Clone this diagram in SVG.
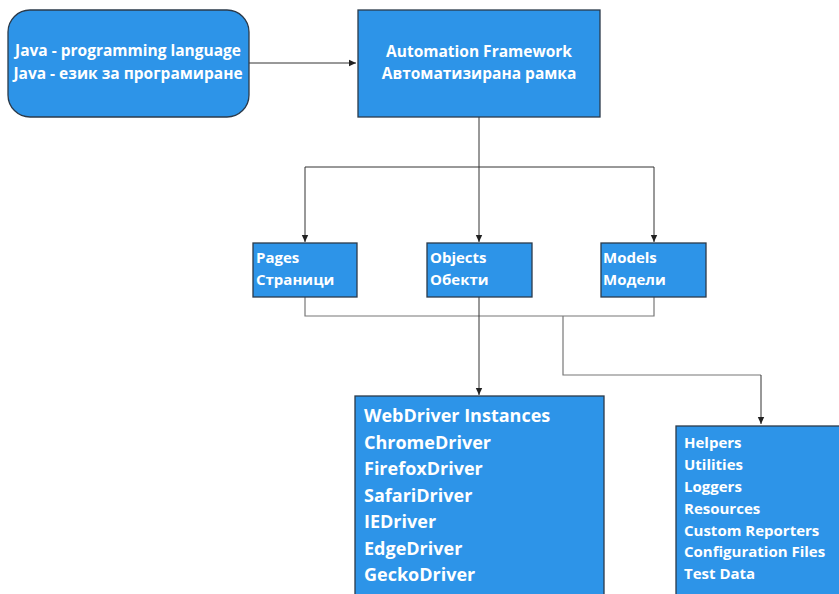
<svg xmlns="http://www.w3.org/2000/svg" width="839" height="594" viewBox="0 0 839 594">
<defs>
<marker id="ah" markerWidth="8" markerHeight="8" refX="7" refY="4" orient="auto" markerUnits="userSpaceOnUse">
<path d="M0,0.8 L7,4 L0,7.2 Z" fill="#222"/>
</marker>
<style>
.box{fill:#2d94e8;stroke:#2b3a4a;stroke-width:1.3}
.t{font-family:"Open Sans","Liberation Sans",sans-serif;font-weight:bold;fill:#fff}
.c{fill:none;stroke:#333;stroke-width:1}
.g{fill:none;stroke:#777;stroke-width:1.2}
</style>
</defs>
<rect width="839" height="594" fill="#fff"/>
<g id="connectors">
<path class="c" d="M248,63 H356" marker-end="url(#ah)"/>
<path class="c" d="M479,117 V242" marker-end="url(#ah)"/>
<path class="c" d="M305,167 H654"/>
<path class="c" d="M305,167 V242" marker-end="url(#ah)"/>
<path class="c" d="M654,167 V242" marker-end="url(#ah)"/>
<path class="g" d="M305,297 V316 H654 V297"/>
<path class="c" d="M479,297 V395" marker-end="url(#ah)"/>
<path class="g" d="M563,316 V375 H761"/>
<path class="c" d="M761,375 V424" marker-end="url(#ah)"/>
</g>
<g id="java">
<rect class="box" x="8" y="10" width="241" height="107" rx="22"/>
<text class="t" font-size="15.5" text-anchor="middle" x="128" y="56">Java - programming language</text>
<text class="t" font-size="15.5" text-anchor="middle" x="128" y="79">Java - език за програмиране</text>
</g>
<g id="framework">
<rect class="box" x="358" y="10" width="242" height="107"/>
<text class="t" font-size="15.5" text-anchor="middle" x="479" y="57">Automation Framework</text>
<text class="t" font-size="15.5" text-anchor="middle" x="479" y="79">Автоматизирана рамка</text>
</g>
<g id="pages">
<rect class="box" x="253" y="243" width="104" height="54"/>
<text class="t" font-size="15" x="256" y="263">Pages</text>
<text class="t" font-size="15" x="256" y="285">Страници</text>
</g>
<g id="objects">
<rect class="box" x="427" y="243" width="105" height="54"/>
<text class="t" font-size="15" x="430" y="263">Objects</text>
<text class="t" font-size="15" x="430" y="285">Обекти</text>
</g>
<g id="models">
<rect class="box" x="601" y="243" width="105" height="54"/>
<text class="t" font-size="15" x="603" y="263">Models</text>
<text class="t" font-size="15" x="603" y="285">Модели</text>
</g>
<g id="webdriver">
<rect class="box" x="355" y="396" width="249" height="210"/>
<g class="t" font-size="18">
<text x="364" y="422">WebDriver Instances</text>
<text x="364" y="448.5">ChromeDriver</text>
<text x="364" y="475">FirefoxDriver</text>
<text x="364" y="501.5">SafariDriver</text>
<text x="364" y="528">IEDriver</text>
<text x="364" y="554.5">EdgeDriver</text>
<text x="364" y="581">GeckoDriver</text>
</g>
</g>
<g id="helpers">
<rect class="box" x="676" y="426" width="175" height="180"/>
<g class="t" font-size="15">
<text x="684" y="448">Helpers</text>
<text x="684" y="470">Utilities</text>
<text x="684" y="492">Loggers</text>
<text x="684" y="514">Resources</text>
<text x="684" y="536">Custom Reporters</text>
<text x="684" y="557">Configuration Files</text>
<text x="684" y="579">Test Data</text>
</g>
</g>
</svg>
